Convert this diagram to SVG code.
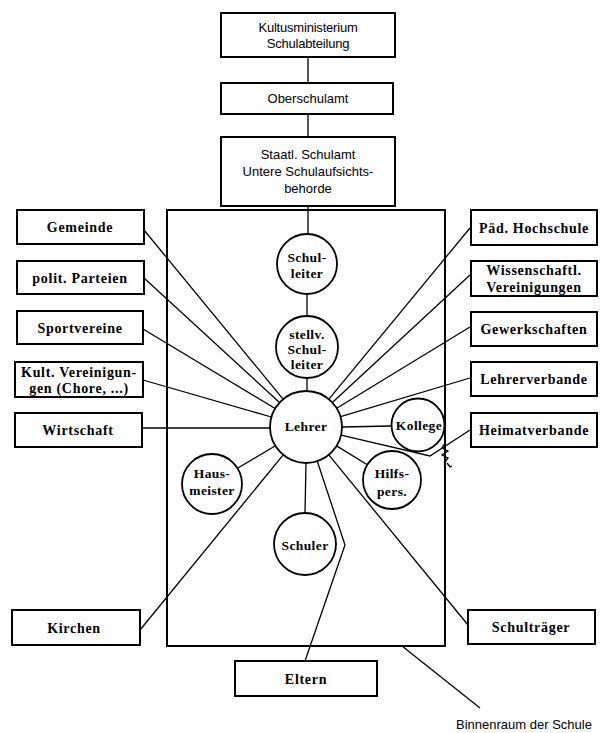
<svg xmlns="http://www.w3.org/2000/svg" width="601" height="733" viewBox="0 0 601 733">
<style>
.box{fill:#fff;stroke:#000;stroke-width:2}
.frame{fill:none;stroke:#000;stroke-width:2}
.circ{fill:#fff;stroke:#000;stroke-width:1.8}
.ln{fill:none;stroke:#000;stroke-width:1.3}
.lbl{font-family:"Liberation Serif","Times New Roman",serif;font-weight:bold;font-size:14px;letter-spacing:0.7px;text-anchor:middle;dominant-baseline:central;fill:#000}
.cl{font-family:"Liberation Serif","Times New Roman",serif;font-weight:bold;font-size:13.5px;letter-spacing:0.4px;text-anchor:middle;dominant-baseline:central;fill:#000}
.top{font-family:"Liberation Sans",Arial,sans-serif;font-size:13px;text-anchor:middle;dominant-baseline:central;fill:#000}
</style>
<rect class="frame" x="167" y="210" width="278" height="436"/>
<g id="connectors">
<path class="ln" d="M308,57V83M308,114V137M308,206V234M307,294V316M307,378V391"/>
<line class="ln" x1="144" y1="230" x2="283.1" y2="399.2"/>
<line class="ln" x1="144" y1="278" x2="279.5" y2="402.6"/>
<line class="ln" x1="143" y1="329" x2="275.1" y2="408.5"/>
<line class="ln" x1="143" y1="380" x2="271.4" y2="417"/>
<line class="ln" x1="142" y1="428" x2="270" y2="428"/>
<line class="ln" x1="140" y1="630" x2="283.2" y2="454.9"/>
<line class="ln" x1="470" y1="228" x2="328.9" y2="399.2"/>
<line class="ln" x1="470" y1="275" x2="332.4" y2="402.5"/>
<line class="ln" x1="470" y1="327" x2="336.7" y2="408.2"/>
<line class="ln" x1="470" y1="378" x2="340.5" y2="416.7"/>
<line class="ln" x1="342" y1="427" x2="391" y2="426"/>
<polyline class="ln" points="470,430 430,456 341.1,435.2"/>
<line class="ln" x1="336.6" y1="445.9" x2="367.3" y2="464.8"/>
<line class="ln" x1="328.8" y1="454.9" x2="468" y2="625"/>
<line class="ln" x1="306" y1="463" x2="305" y2="513"/>
<polyline class="ln" points="317.3,461.2 345,545 305,661"/>
<line class="ln" x1="275" y1="446" x2="238" y2="468"/>
<line class="ln" x1="402" y1="646" x2="480" y2="708"/>
<path class="ln" d="M445,443l-3,5l6,3l-6,4l6,3l-4,5M447,463l3,4l2,-1"/>
</g>
<g id="kultusministerium"><rect class="box" x="221" y="13" width="174" height="44"/><text class="top" x="308" y="27" font-size="12" letter-spacing="-0.2">Kultusministerium</text><text class="top" x="308" y="43" font-size="12" letter-spacing="-0.2">Schulabteilung</text></g>
<g id="oberschulamt"><rect class="box" x="221" y="83" width="172" height="31"/><text class="top" x="308" y="98">Oberschulamt</text></g>
<g id="staatl-schulamt"><rect class="box" x="221" y="137" width="174" height="69"/><text class="top" x="308" y="154">Staatl. Schulamt</text><text class="top" x="308" y="171">Untere Schulaufsichts-</text><text class="top" x="308" y="188">behorde</text></g>
<g id="gemeinde"><rect class="box" x="17" y="210" width="127" height="34"/><text class="lbl" x="80" y="227">Gemeinde</text></g>
<g id="parteien"><rect class="box" x="17" y="261" width="127" height="33"/><text class="lbl" x="80" y="278">polit. Parteien</text></g>
<g id="sportvereine"><rect class="box" x="17" y="311" width="126" height="33"/><text class="lbl" x="80" y="328">Sportvereine</text></g>
<g id="kult-vereinigungen"><rect class="box" x="15" y="362" width="128" height="35"/><text class="lbl" x="79" y="372">Kult. Vereinigun-</text><text class="lbl" x="79" y="388">gen (Chore, ...)</text></g>
<g id="wirtschaft"><rect class="box" x="15" y="413" width="127" height="34"/><text class="lbl" x="78" y="430">Wirtschaft</text></g>
<g id="kirchen"><rect class="box" x="12" y="610" width="128" height="35"/><text class="lbl" x="74" y="628">Kirchen</text></g>
<g id="eltern"><rect class="box" x="235" y="661" width="142" height="35"/><text class="lbl" x="306" y="679">Eltern</text></g>
<g id="schultraeger"><rect class="box" x="468" y="610" width="127" height="34"/><text class="lbl" x="531" y="627">Schulträger</text></g>
<g id="paed-hochschule"><rect class="box" x="471" y="210" width="126" height="35"/><text class="lbl" x="534" y="228">Päd. Hochschule</text></g>
<g id="wissenschaftl"><rect class="box" x="471" y="261" width="126" height="35"/><text class="lbl" x="534" y="270">Wissenschaftl.</text><text class="lbl" x="534" y="287">Vereinigungen</text></g>
<g id="gewerkschaften"><rect class="box" x="471" y="312" width="126" height="34"/><text class="lbl" x="534" y="329">Gewerkschaften</text></g>
<g id="lehrerverbande"><rect class="box" x="471" y="362" width="126" height="34"/><text class="lbl" x="534" y="379">Lehrerverbande</text></g>
<g id="heimatverbande"><rect class="box" x="471" y="413" width="126" height="34"/><text class="lbl" x="534" y="430">Heimatverbande</text></g>
<g id="schulleiter"><circle class="circ" cx="307" cy="264" r="30"/><text class="cl" x="307" y="257">Schul-</text><text class="cl" x="307" y="273">leiter</text></g>
<g id="stellv-schulleiter"><circle class="circ" cx="307" cy="347" r="31"/><text class="cl" x="307" y="334">stellv.</text><text class="cl" x="307" y="349">Schul-</text><text class="cl" x="307" y="364">leiter</text></g>
<g id="lehrer"><circle class="circ" cx="306" cy="427" r="36" stroke-width="2.2"/><text class="cl" x="306" y="426">Lehrer</text></g>
<g id="kollege"><circle class="circ" cx="418" cy="425" r="26.5"/><text class="cl" x="419" y="425">Kollege</text></g>
<g id="hausmeister"><circle class="circ" cx="212" cy="484" r="30"/><text class="cl" x="212" y="473">Haus-</text><text class="cl" x="212" y="490">meister</text></g>
<g id="hilfspers"><circle class="circ" cx="392" cy="480" r="29"/><text class="cl" x="392" y="473">Hilfs-</text><text class="cl" x="392" y="491">pers.</text></g>
<g id="schuler"><circle class="circ" cx="305" cy="544" r="31"/><text class="cl" x="305" y="545">Schuler</text></g>
<text class="top" x="524" y="724" font-size="12">Binnenraum der Schule</text>
</svg>
